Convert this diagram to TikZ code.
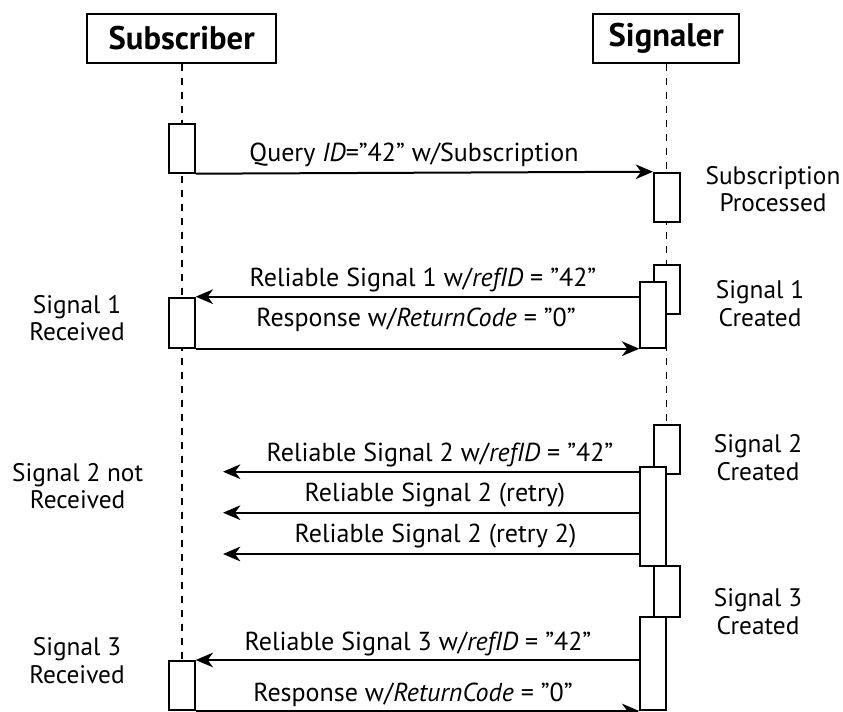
\documentclass[tikz,border=0pt]{standalone}
\usepackage{fontspec}
\setmainfont{PT Sans}
\usetikzlibrary{positioning, arrows.meta, calc}
\newcommand{\pxl}{0.75pt}

\begin{document}
\begin{tikzpicture}[x=0.75pt, y=-0.75pt,
  head/.style={draw, line width=1.5pt, minimum height=49*\pxl, inner sep=0pt, font=\fontsize{24.5}{29}\selectfont\bfseries},
  act/.style={draw, fill=white, line width=1.5pt, minimum width=26*\pxl, inner sep=0pt, anchor=north},
  msg/.style={-{Stealth[length=13pt, width=11pt, inset=4pt]}, line width=1.5pt},
  life/.style={line width=1.2pt, dash pattern=on 5.5pt off 5pt},
  lbl/.style={anchor=base, inner sep=0pt, font=\fontsize{19.5}{23}\selectfont},
  note/.style={align=center, inner sep=0pt, font=\fontsize{19}{20.5}\selectfont}]
\useasboundingbox (0,0) rectangle (843,711);

\node[head, minimum width=188.7*\pxl] (sub) at (181.7,38.5) {Subscriber};
\node[head, minimum width=146*\pxl] (sig) at (666.3,38.5) {Signaler};
\coordinate (subend) at (181.7,711);
\coordinate (sigend) at (666.3,711);
\draw[life] (sub.south) -- (subend);
\draw[life] (sig.south) -- (sigend);

\node[act, minimum height=49*\pxl] (sa1) at (181.7,122.7) {};
\node[act, minimum height=49*\pxl] (ga1) at (667,171.7) {};
\node[act, minimum height=49.3*\pxl] (gb1) at (667,264) {};
\node[act, minimum height=66*\pxl] (gf1) at (653.3,280.7) {};
\node[act, minimum height=50*\pxl] (sa2) at (181.7,296.7) {};
\node[act, minimum height=49.3*\pxl] (gb2) at (667,424) {};
\node[act, minimum height=99.3*\pxl] (gf2) at (653.3,465.7) {};
\node[act, minimum height=51*\pxl] (gb3) at (667,565) {};
\node[act, minimum height=93*\pxl] (gf3) at (653.3,616) {};
\node[act, minimum height=49*\pxl] (sa3) at (181.7,660) {};

\coordinate (lost1) at (223,471.7);
\coordinate (lost2) at (223,512.7);
\coordinate (lost3) at (223,554);

\draw[msg] (sa1.south east) -- (ga1.north west);
\draw[msg] (sa2.north east -| gf1.west) -- (sa2.north east);
\draw[msg] (sa2.south east) -- (gf1.south west);
\draw[msg] (lost1 -| gf2.west) -- (lost1);
\draw[msg] (lost2 -| gf2.west) -- (lost2);
\draw[msg] (lost3 -| gf2.west) -- (lost3);
\draw[msg] (sa3.north east -| gf3.west) -- (sa3.north east);
\draw[msg] (sa3.south east) -- (gf3.south west);

\node[lbl] (tq) at (414,161.7) {Query \textit{ID}="42" w/Subscription};
\node[lbl] (tr1) at (423,286.7) {Reliable Signal 1 w/\textit{refID} = "42"};
\node[lbl] (tp1) at (416,326) {Response w/\textit{ReturnCode} = "0"};
\node[lbl] (tr2) at (440,461) {Reliable Signal 2 w/\textit{refID} = "42"};
\node[lbl] (tr2a) at (435,501) {Reliable Signal 2 (retry)};
\node[lbl] (tr2b) at (435.5,542) {Reliable Signal 2 (retry 2)};
\node[lbl] (tr3) at (418,650) {Reliable Signal 3 w/\textit{refID} = "42"};
\node[lbl] (tp3) at (413,701) {Response w/\textit{ReturnCode} = "0"};

\node[note] (nproc) at (773,189) {Subscription\\Processed};
\node[note] (ncr1) at (760,303.5) {Signal 1\\Created};
\node[note] (nrc1) at (77,318) {Signal 1\\Received};
\node[note] (ncr2) at (758,457.5) {Signal 2\\Created};
\node[note] (nnr2) at (77.6,486) {Signal 2 not\\Received};
\node[note] (ncr3) at (758,611.5) {Signal 3\\Created};
\node[note] (nrc3) at (77,660.5) {Signal 3\\Received};
\end{tikzpicture}
\end{document}
